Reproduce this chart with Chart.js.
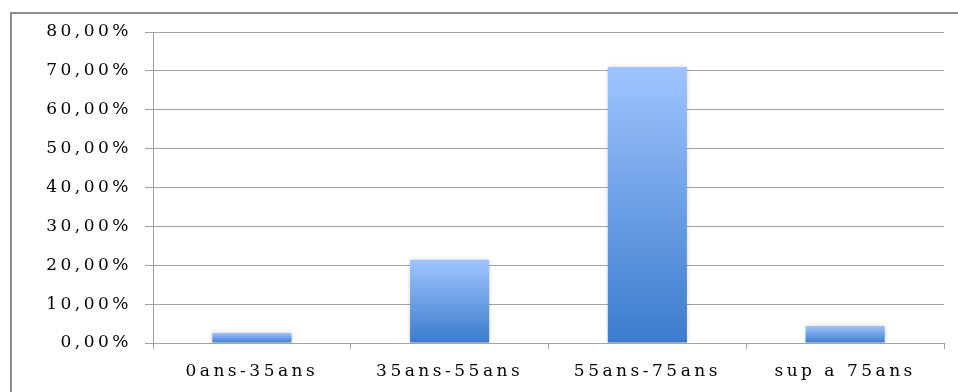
<!DOCTYPE html>
<html>
<head>
<meta charset="utf-8">
<script src="https://cdn.jsdelivr.net/npm/chart.js@4"></script>
<style>
  html, body { margin: 0; padding: 0; background: #fff; }
  body { width: 958px; height: 392px; position: relative; overflow: hidden; }
  /* frame around the chart, runs off the right and bottom edges */
  #frame { position: absolute; left: 10px; top: 12px; width: 1000px; height: 500px;
           border: 2px solid #8c8c8c; box-sizing: border-box; }
  #wrap { position: absolute; left: 0; top: 0; width: 958px; height: 392px; }
</style>
</head>
<body>
<div id="frame"></div>
<div id="wrap"><canvas id="chart"></canvas></div>
<script>
// Age groups and their share (in %)
var categories = ['0ans-35ans', '35ans-55ans', '55ans-75ans', 'sup a 75ans'];
var shares = [2.6, 21.4, 71.0, 4.4];

// Y axis range
var yMax = 80;
var yStep = 10;

var gridColor = '#a3a3a3';
var textColor = '#000';

// vertical gradient per bar, light on top, darker at the base
function barGradient(context) {
    var chart = context.chart;
    var y = chart.scales.y;
    if (!y || !context.parsed) return '#6a9ee6';
    var top = y.getPixelForValue(context.parsed.y);
    var bottom = y.getPixelForValue(0);
    if (!isFinite(top) || !isFinite(bottom) || top === bottom) return '#6a9ee6';
    var g = chart.ctx.createLinearGradient(0, top, 0, bottom);
    g.addColorStop(0, '#9fc5ff');
    g.addColorStop(1, '#3b7bcc');
    return g;
}

// wide letter spacing for all texts on the canvas
var spacingPlugin = {
    id: 'spacing',
    beforeLayout: function (chart) { chart.ctx.letterSpacing = '3.5px'; },
    beforeDraw: function (chart) { chart.ctx.letterSpacing = '3.5px'; }
};

// soft shadow around the bars
var shadowPlugin = {
    id: 'barShadow',
    beforeDatasetsDraw: function (chart) {
        var ctx = chart.ctx;
        ctx.save();
        ctx.shadowColor = 'rgba(0,0,0,0.22)';
        ctx.shadowBlur = 5;
        ctx.shadowOffsetX = 0;
        ctx.shadowOffsetY = 0;
    },
    afterDatasetsDraw: function (chart) {
        chart.ctx.restore();
    }
};

Chart.defaults.font.family = "'DejaVu Serif', serif";
Chart.defaults.font.size = 17;
Chart.defaults.color = textColor;

var ctx = document.getElementById('chart').getContext('2d');

var myChart = new Chart(ctx, {
    type: 'bar',
    data: {
        labels: categories,
        datasets: [{
            data: shares,
            backgroundColor: barGradient,
            borderWidth: 0,
            barPercentage: 0.4,
            categoryPercentage: 1
        }]
    },
    options: {
        responsive: true,
        maintainAspectRatio: false,
        animation: false,
        layout: {
            padding: { left: 0, right: 14, top: 32, bottom: 11 }
        },
        plugins: {
            legend: { display: false },
            tooltip: { enabled: false }
        },
        scales: {
            x: {
                afterFit: function (scale) { scale.height = 38; },
                grid: {
                    offset: true,
                    drawOnChartArea: false,
                    drawTicks: true,
                    tickLength: 6,
                    color: gridColor
                },
                border: { display: true, color: gridColor, width: 1 },
                ticks: {
                    padding: 12,
                    maxRotation: 0,
                    autoSkip: false,
                    color: textColor
                }
            },
            y: {
                min: 0,
                max: yMax,
                afterFit: function (scale) { scale.width = 153; },
                grid: {
                    color: gridColor,
                    lineWidth: 1,
                    drawTicks: true,
                    tickLength: 8
                },
                border: { display: true, color: gridColor, width: 1 },
                ticks: {
                    stepSize: yStep,
                    padding: 13,
                    color: textColor,
                    callback: function (value) {
                        return value.toFixed(2).replace('.', ',') + '%';
                    }
                }
            }
        }
    },
    plugins: [spacingPlugin, shadowPlugin]
});
</script>
</body>
</html>
